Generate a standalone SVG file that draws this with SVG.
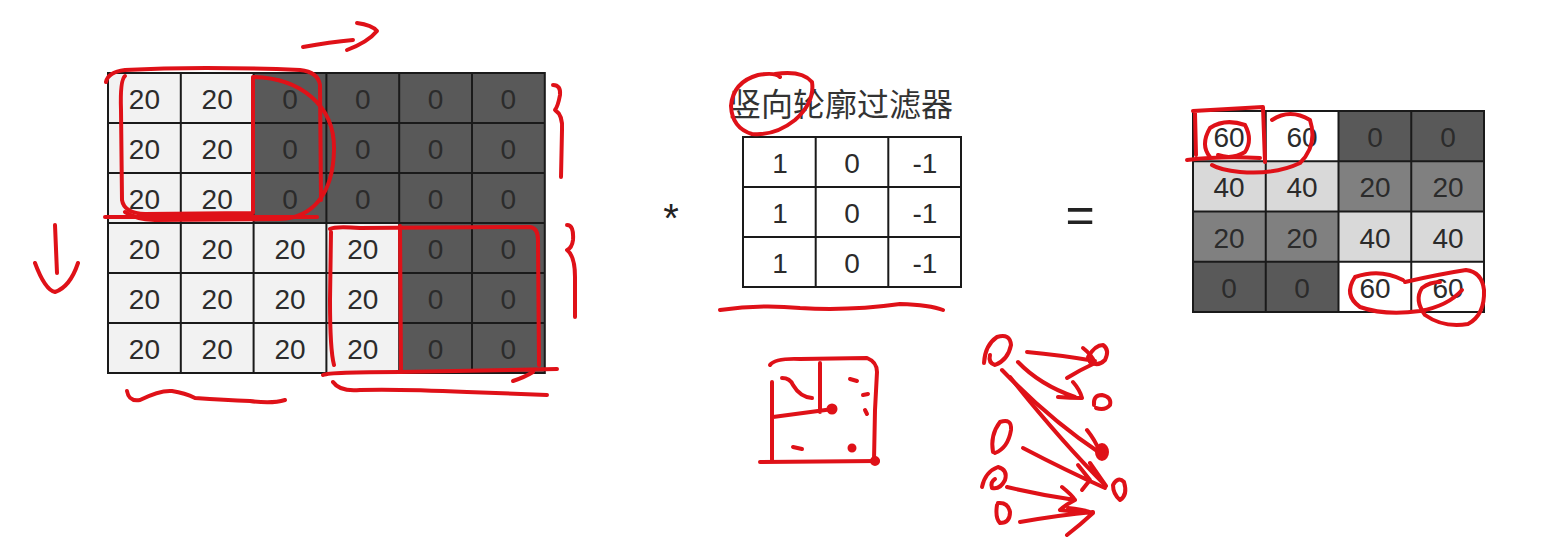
<svg xmlns="http://www.w3.org/2000/svg" width="1545" height="553" viewBox="0 0 1545 553">
<style>
.num{font-family:"Liberation Sans","Noto Sans",sans-serif;font-size:28px;fill:#2b2b2b;text-anchor:middle}
.lt{fill:#f2f2f2}.dk{fill:#595959}.wh{fill:#ffffff}.md{fill:#808080}.lg{fill:#d9d9d9}
.grid{fill:none;stroke:#1a1a1a;stroke-width:2}
.red{fill:none;stroke:#df1118;stroke-width:4;stroke-linecap:round;stroke-linejoin:round}
.title{font-family:"Noto Sans CJK SC","Noto Sans",sans-serif;font-size:32px;fill:#333}
.op{font-family:"Liberation Sans","Noto Sans",sans-serif;fill:#222;text-anchor:middle}
</style>
<rect width="1545" height="553" fill="#ffffff"/>

<g id="input-image">
  <rect class="lt" x="108" y="73" width="145.6" height="150"/>
  <rect class="dk" x="253.6" y="73" width="291.2" height="150"/>
  <rect class="lt" x="108" y="223" width="291.2" height="150"/>
  <rect class="dk" x="399.2" y="223" width="145.6" height="150"/>
  <path class="grid" d="M108,73H544.8V373H108Z M180.8,73V373 M253.6,73V373 M326.4,73V373 M399.2,73V373 M472,73V373 M108,123H544.8 M108,173H544.8 M108,223H544.8 M108,273H544.8 M108,323H544.8"/>
  <g class="num">
    <text x="144.4" y="109">20</text><text x="217.2" y="109">20</text><text x="290" y="109">0</text><text x="362.8" y="109">0</text><text x="435.6" y="109">0</text><text x="508.4" y="109">0</text>
    <text x="144.4" y="159">20</text><text x="217.2" y="159">20</text><text x="290" y="159">0</text><text x="362.8" y="159">0</text><text x="435.6" y="159">0</text><text x="508.4" y="159">0</text>
    <text x="144.4" y="209">20</text><text x="217.2" y="209">20</text><text x="290" y="209">0</text><text x="362.8" y="209">0</text><text x="435.6" y="209">0</text><text x="508.4" y="209">0</text>
    <text x="144.4" y="259">20</text><text x="217.2" y="259">20</text><text x="290" y="259">20</text><text x="362.8" y="259">20</text><text x="435.6" y="259">0</text><text x="508.4" y="259">0</text>
    <text x="144.4" y="309">20</text><text x="217.2" y="309">20</text><text x="290" y="309">20</text><text x="362.8" y="309">20</text><text x="435.6" y="309">0</text><text x="508.4" y="309">0</text>
    <text x="144.4" y="359">20</text><text x="217.2" y="359">20</text><text x="290" y="359">20</text><text x="362.8" y="359">20</text><text x="435.6" y="359">0</text><text x="508.4" y="359">0</text>
  </g>
</g>

<g id="operator-conv">
  <text class="op" x="671" y="232" font-size="40">*</text>
</g>

<g id="filter">
  <text class="title" x="729" y="116">竖向轮廓过滤器</text>
  <rect class="wh" x="743" y="137" width="218" height="150"/>
  <path class="grid" d="M743,137H961V287H743Z M815.7,137V287 M888.3,137V287 M743,187H961 M743,237H961"/>
  <g class="num">
    <text x="780" y="173">1</text><text x="852" y="173">0</text><text x="925" y="173">-1</text>
    <text x="780" y="223">1</text><text x="852" y="223">0</text><text x="925" y="223">-1</text>
    <text x="780" y="273">1</text><text x="852" y="273">0</text><text x="925" y="273">-1</text>
  </g>
</g>

<g id="operator-eq">
  <text class="op" x="1080" y="232" font-size="50">=</text>
</g>

<g id="output">
  <rect class="wh" x="1193" y="111" width="145.5" height="50.25"/>
  <rect class="dk" x="1338.5" y="111" width="145.5" height="50.25"/>
  <rect class="lg" x="1193" y="161.25" width="145.5" height="50.25"/>
  <rect class="md" x="1338.5" y="161.25" width="145.5" height="50.25"/>
  <rect class="md" x="1193" y="211.5" width="145.5" height="50.25"/>
  <rect class="lg" x="1338.5" y="211.5" width="145.5" height="50.25"/>
  <rect class="dk" x="1193" y="261.75" width="145.5" height="50.25"/>
  <rect class="wh" x="1338.5" y="261.75" width="145.5" height="50.25"/>
  <path class="grid" d="M1193,111H1484V312H1193Z M1265.75,111V312 M1338.5,111V312 M1411.25,111V312 M1193,161.25H1484 M1193,211.5H1484 M1193,261.75H1484"/>
  <g class="num">
    <text x="1229" y="147">60</text><text x="1302" y="147">60</text><text x="1375" y="147">0</text><text x="1448" y="147">0</text>
    <text x="1229" y="197">40</text><text x="1302" y="197">40</text><text x="1375" y="197">20</text><text x="1448" y="197">20</text>
    <text x="1229" y="248">20</text><text x="1302" y="248">20</text><text x="1375" y="248">40</text><text x="1448" y="248">40</text>
    <text x="1229" y="298">0</text><text x="1302" y="298">0</text><text x="1375" y="298">60</text><text x="1448" y="298">60</text>
  </g>
</g>

<g id="connectors"></g>

<g id="annotations" class="red">
  <path d="M303,47 Q330,42 353,40 M357,23 Q372,25 377,31 Q368,42 347,50"/>
  <path d="M55,225 Q56,250 57,273 M35,263 Q45,290 55,292 Q70,287 78,263"/>
  <path d="M106,82 Q108,72 125,70 Q200,66 300,70 Q318,72 320,85 L321,200"/>
  <path d="M125,76 Q120,80 121,110 L122,200 Q124,213 145,214 L253,213 M253,78 L253,213"/>
  <path d="M253,77 C300,78 335,105 334,150 C333,195 312,218 280,219 L155,220 Q135,219 125,212"/>
  <path d="M105,217 L317,217"/>
  <path d="M330,229 Q335,226 360,228 L530,227 Q538,228 538,240 L539,365"/>
  <path d="M331,232 L330,300 Q330,350 334,365"/>
  <path d="M400,226 L401,372"/>
  <path d="M323,375 Q330,372 400,372 L557,369"/>
  <path d="M513,381 Q525,377 533,372"/>
  <path d="M333,382 Q340,392 360,390 Q400,389 467,392 L547,395"/>
  <path d="M553,85 Q561,85 560,95 Q558,106 555,110 Q563,115 562,130 L561,177"/>
  <path d="M567,225 Q574,225 573,240 Q572,248 567,250 Q575,256 575,277 L575,317"/>
  <path d="M127,391 Q129,402 140,400 Q160,390 172,391 Q185,393 195,398 Q225,400 250,401 Q272,404 285,400"/>
  <path d="M775,74 Q802,70 812,82 Q815,102 795,120 Q775,136 752,134 Q732,128 731,106 Q733,82 758,75 Q775,72 780,77"/>
  <path d="M720,310 Q760,304 800,308 Q850,311 900,304 Q930,305 943,310"/>
  <path d="M1193,111 L1263,107 L1265,162 M1195,113 L1196,155 M1187,160 Q1220,156 1260,158"/>
  <path d="M1210,157 Q1200,145 1210,128 Q1225,118 1245,125 Q1253,140 1245,152 Q1232,160 1218,155"/>
  <path d="M1272,120 Q1290,108 1310,120 Q1318,145 1300,163 Q1275,175 1240,172 Q1220,170 1212,165"/>
  <path d="M1403,280 Q1380,268 1355,277 Q1343,295 1360,307 Q1385,316 1420,311 Q1448,306 1462,290"/>
  <path d="M1405,282 Q1440,274 1466,270 Q1482,272 1484,290 Q1485,315 1468,324 Q1443,328 1425,315 Q1414,300 1422,288 Q1430,282 1440,282"/>
  <path d="M770,365 Q775,358 800,359 L867,358 Q877,362 877,372 L875,410 L874,460"/>
  <path d="M772,382 L772,460 M760,462 L878,461 M820,363 L820,412 M773,417 L833,409"/>
  <path d="M782,378 Q790,378 793,385 Q800,397 812,398"/>
  <path d="M850,379 L857,381 M863,395 L868,394 M865,410 L867,414 M793,447 L802,449"/>
  <circle cx="852" cy="448" r="2.5" fill="#df1118"/>
  <circle cx="875" cy="461" r="3" fill="#df1118"/>
  <circle cx="832" cy="409" r="3.5" fill="#df1118"/>
  <path d="M984,363 Q985,345 997,337 Q1010,333 1011,345 Q1008,360 995,365 Q988,363 990,355"/>
  <path d="M993,452 Q990,435 1000,422 Q1012,418 1011,430 Q1008,448 995,453"/>
  <path d="M982,487 Q985,472 998,467 Q1008,470 1005,480 Q1000,490 992,488 Q990,482 995,479"/>
  <path d="M997,505 Q995,518 1000,523 Q1010,523 1010,512 Q1008,502 998,503"/>
  <path d="M1088,357 Q1095,345 1103,345 Q1110,350 1105,360 Q1098,367 1090,362"/>
  <path d="M1094,405 Q1093,395 1102,395 Q1112,397 1110,405 Q1105,411 1096,408"/>
  <ellipse cx="1102" cy="452" rx="5" ry="7" fill="#df1118"/>
  <path d="M1113,485 Q1118,476 1124,482 Q1128,495 1120,500 Q1113,494 1113,485"/>
  <path d="M1027,352 Q1060,355 1095,361 M1083,348 Q1092,355 1095,363 Q1080,370 1067,378"/>
  <path d="M1018,362 Q1040,385 1075,397 M1073,382 Q1080,390 1082,398 Q1070,398 1058,397"/>
  <path d="M1002,370 Q1050,420 1100,453 M1087,430 Q1095,440 1100,452"/>
  <path d="M1010,377 Q1060,440 1105,485 M1090,463 L1106,486"/>
  <path d="M1023,448 Q1065,470 1105,488 M1078,465 L1090,480 L1082,490"/>
  <path d="M1007,487 Q1040,495 1075,500 M1062,487 Q1072,495 1075,500 Q1065,505 1060,510 L1078,512"/>
  <path d="M1020,522 Q1060,515 1093,512 M1068,508 Q1085,510 1093,513 Q1080,525 1067,535"/>
</g>
</svg>
